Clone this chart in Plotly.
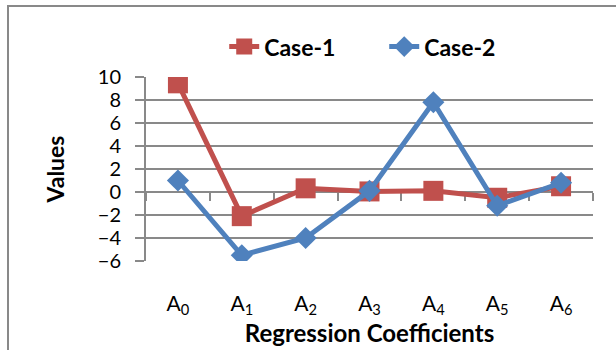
import plotly.graph_objects as go

categories = ["A<sub>0</sub>", "A<sub>1</sub>", "A<sub>2</sub>", "A<sub>3</sub>",
              "A<sub>4</sub>", "A<sub>5</sub>", "A<sub>6</sub>"]
case1 = [9.45, -2.1, 0.32, 0.05, 0.1, -0.5, 0.5]
case2 = [1.0, -5.5, -4.0, 0.1, 7.8, -1.2, 0.8]
y_ticks = [10, 8, 6, 4, 2, 0, -2, -4, -6]

RED = "#C0504D"
BLUE = "#4F81BD"
GREY = "#898989"
FONT = "Lato"

fig = go.Figure()

# invisible trace that activates the zero-crossing category axis
fig.add_trace(go.Scatter(x=categories, y=case1, xaxis="x2", mode="lines",
                         opacity=0, showlegend=False, hoverinfo="skip"))

fig.add_trace(go.Scatter(x=categories, y=case1, name="Case-1", mode="lines+markers",
                         line=dict(color=RED, width=5),
                         marker=dict(symbol="square", size=20, color=RED)))
fig.add_trace(go.Scatter(x=categories, y=case2, name="Case-2", mode="lines+markers",
                         line=dict(color=BLUE, width=5),
                         marker=dict(symbol="diamond", size=17, color=BLUE)))

fig.update_layout(
    width=616, height=350,
    margin=dict(l=146, r=23, t=77, b=89),
    paper_bgcolor="white", plot_bgcolor="white",
    font=dict(family=FONT, size=20, color="black"),
    showlegend=True,
    legend=dict(orientation="h", x=0.175, xanchor="left", y=1.165, yanchor="middle",
                font=dict(family=FONT, size=23, color="black", weight="bold"),
                bgcolor="rgba(0,0,0,0)", itemwidth=30, tracegroupgap=0,
                entrywidth=115, entrywidthmode="pixels"),
    xaxis=dict(type="category", categoryorder="array", categoryarray=categories,
               range=[-0.5, 6.5], showline=False, showgrid=False, ticks="",
               zeroline=False, ticklabelstandoff=28,
               tickfont=dict(family=FONT, size=21),
               title=dict(text="<b>Regression Coefficients</b>", standoff=0,
                          font=dict(family=FONT, size=24))),
    xaxis2=dict(type="category", categoryorder="array", categoryarray=categories,
                range=[-0.5, 6.5], overlaying="x", anchor="free", position=6/16,
                showline=True, linecolor=GREY, linewidth=2,
                ticks="outside", tickson="boundaries", ticklen=8, tickwidth=2,
                tickcolor=GREY, showticklabels=False, showgrid=False,
                layer="below traces"),
    yaxis=dict(range=[-6, 10], tickvals=y_ticks, showgrid=True, gridcolor=GREY,
               gridwidth=2, zeroline=False, showline=True, linecolor=GREY, linewidth=2,
               ticks="outside", ticklen=9, tickwidth=2, tickcolor=GREY,
               ticklabelstandoff=10,
               tickfont=dict(family=FONT, size=20),
               title=dict(text="<b>Values</b>", standoff=27,
                          font=dict(family=FONT, size=23))),
    shapes=[dict(type="rect", xref="paper", yref="paper",
                 x0=(8 - 146) / 447, x1=(640 - 146) / 447,
                 y0=(261 - 370) / 184, y1=(261 - 6) / 184,
                 line=dict(color=GREY, width=2), fillcolor="rgba(0,0,0,0)",
                 layer="below")],
)

fig.write_html("out.html")
